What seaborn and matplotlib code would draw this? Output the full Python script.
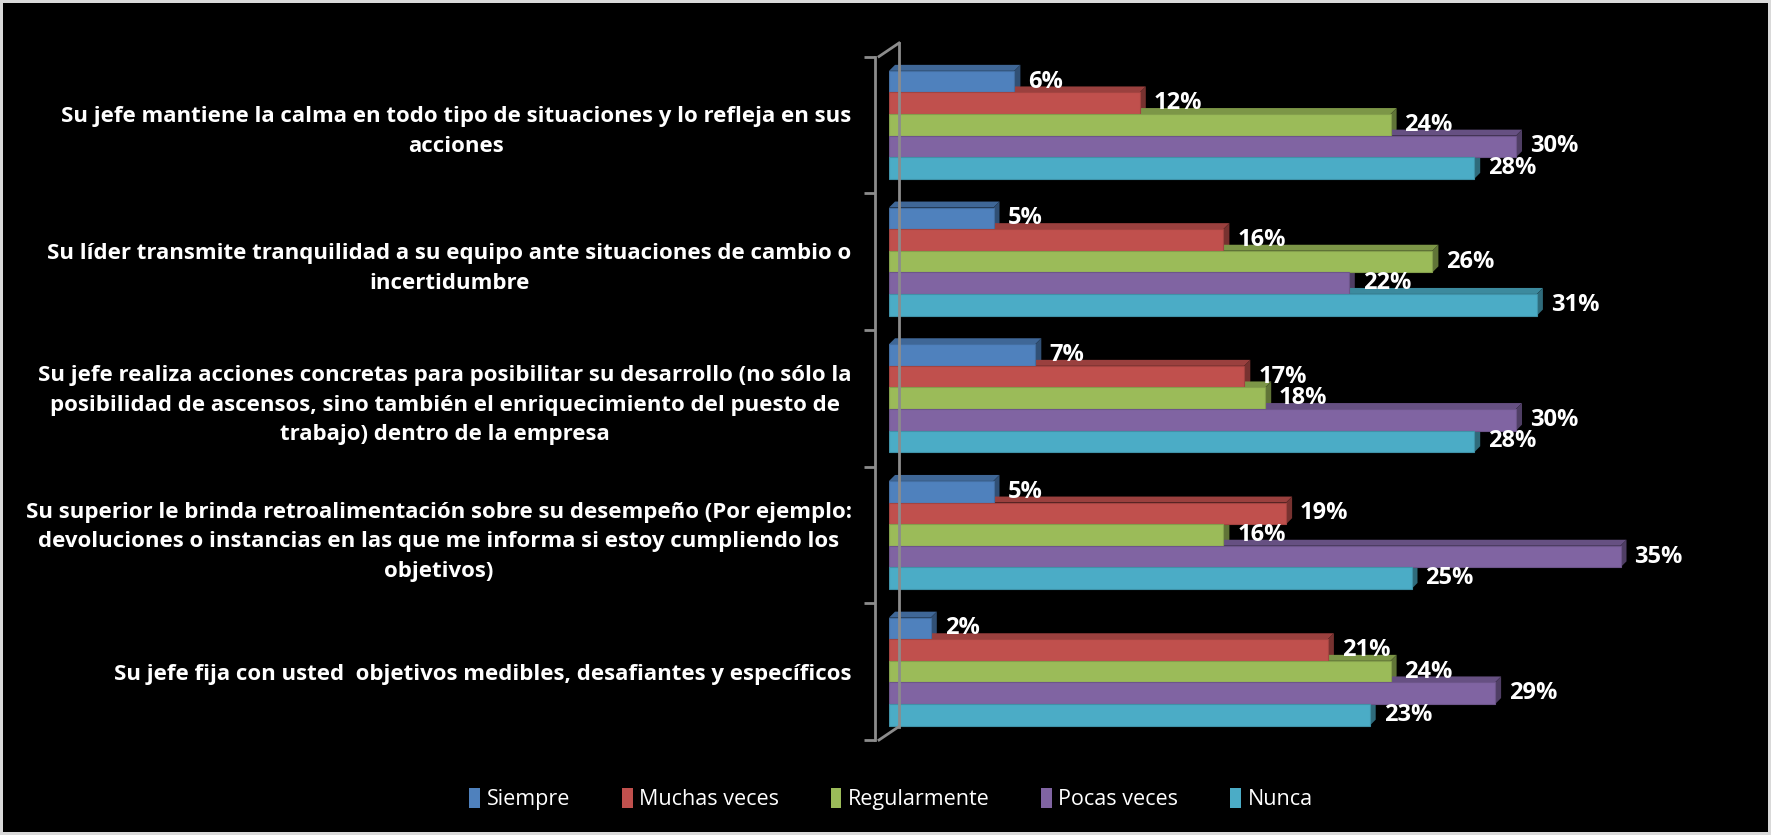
import numpy as np
import pandas as pd
import matplotlib
matplotlib.use("Agg")
import matplotlib.pyplot as plt
import matplotlib.transforms as mtransforms
from matplotlib.patches import Polygon, Patch
from matplotlib.lines import Line2D
import seaborn as sns

preguntas = [
    "Su jefe mantiene la calma en todo tipo de situaciones y lo refleja en sus\nacciones",
    "Su líder transmite tranquilidad a su equipo ante situaciones de cambio o\nincertidumbre",
    "Su jefe realiza acciones concretas para posibilitar su desarrollo (no sólo la\n"
    "posibilidad de ascensos, sino también el enriquecimiento del puesto de\n"
    "trabajo) dentro de la empresa",
    "Su superior le brinda retroalimentación sobre su desempeño (Por ejemplo:\n"
    "devoluciones o instancias en las que me informa si estoy cumpliendo los\n"
    "objetivos)",
    "Su jefe fija con usted  objetivos medibles, desafiantes y específicos",
]
series = ["Siempre", "Muchas veces", "Regularmente", "Pocas veces", "Nunca"]
siempre = [6, 5, 7, 5, 2]
muchas_veces = [12, 16, 17, 19, 21]
regularmente = [24, 26, 18, 16, 24]
pocas_veces = [30, 22, 30, 35, 29]
nunca = [28, 31, 28, 25, 23]
colores = ["#4F81BD", "#C0504D", "#9BBB59", "#8064A2", "#4BACC6"]

rows = []
for serie, vals in zip(series, [siempre, muchas_veces, regularmente, pocas_veces, nunca]):
    for p, v in zip(preguntas, vals):
        rows.append({"pregunta": p, "serie": serie, "valor": v})
df = pd.DataFrame(rows)

plt.rcParams["font.family"] = ["Open Sans", "DejaVu Sans"]

W, H = 1771, 835
fig = plt.figure(figsize=(W / 100, H / 100), dpi=100, facecolor="black")
fig.patch.set_edgecolor("#d9d9d9")
fig.patch.set_linewidth(3)
ax = fig.add_axes([889 / W, 95 / H, 836 / W, 683.5 / H])
ax.set_facecolor("black")

sns.barplot(data=df, y="pregunta", x="valor", hue="serie", order=preguntas,
            hue_order=series, palette=colores, orient="h", width=0.79,
            saturation=1, linewidth=0, ax=ax, zorder=3)
ax.get_legend().remove()
ax.set_xlim(0, 40)
ax.set_ylim(4.5, -0.5)
ax.set_xlabel("")
ax.set_ylabel("")

# axis styling
gris = "#8c8c8c"
for s in ["top", "right", "bottom"]:
    ax.spines[s].set_visible(False)
ax.spines["left"].set_position(("outward", 10))
ax.spines["left"].set_color(gris)
ax.spines["left"].set_linewidth(2)
ax.set_xticks([])
ax.set_yticks(range(len(preguntas)))
ax.set_yticklabels(preguntas, fontsize=16, fontweight="bold", color="white",
                   multialignment="center", linespacing=1.55)
ax.set_yticks(np.arange(-0.5, len(preguntas), 1), minor=True)
ax.tick_params(axis="y", which="major", length=0, pad=17)
ax.tick_params(axis="y", which="minor", length=8, width=2, color=gris)

# back wall of the 3D axis
ident = mtransforms.IdentityTransform()
(ax0, ay0), (ax1, ay1) = ax.transAxes.transform([(0, 0), (1, 1)])
fx, bx, dy = ax0 - 10, ax0 + 10, 13.5
for xs, ys in [([bx, bx], [ay0 + dy, ay1 + dy]),
               ([fx, bx], [ay0, ay0 + dy]),
               ([fx, bx], [ay1, ay1 + dy])]:
    fig.add_artist(Line2D(xs, ys, color=gris, lw=2, transform=ident))

# 3D faces of the bars + labels
d = 6
for cont, col in zip(ax.containers, colores):
    rgb = np.array(matplotlib.colors.to_rgb(col))
    top_c = rgb * 0.8
    side_c = rgb * 0.62
    for bar in cont:
        bar.set_edgecolor(rgb * 0.85)
        bar.set_linewidth(0.8)
        bb = bar.get_window_extent()
        x0, y0, x1, y1 = bb.x0, bb.y0, bb.x1, bb.y1
        ax.add_artist(Polygon([(x0, y1), (x1, y1), (x1 + d, y1 + d), (x0 + d, y1 + d)],
                              closed=True, facecolor=top_c, edgecolor="none",
                              transform=ident, zorder=2, clip_on=False))
        ax.add_artist(Polygon([(x1, y0), (x1, y1), (x1 + d, y1 + d), (x1 + d, y0 + d)],
                              closed=True, facecolor=side_c, edgecolor="none",
                              transform=ident, zorder=2, clip_on=False))
    ax.bar_label(cont, labels=[f"{v:.0f}%" for v in cont.datavalues], padding=10,
                 color="white", fontsize=17, fontweight="bold")

handles = [Patch(facecolor=c, edgecolor="none") for c in colores]
fig.legend(handles, series, loc="center", bbox_to_anchor=(891 / W, 1 - 799 / H),
           ncol=5, frameon=False, labelcolor="white", fontsize=15.5,
           handlelength=0.5, handleheight=1.1, handletextpad=0.3, columnspacing=2.4)

fig.savefig("out.png", dpi=100, facecolor="black")
